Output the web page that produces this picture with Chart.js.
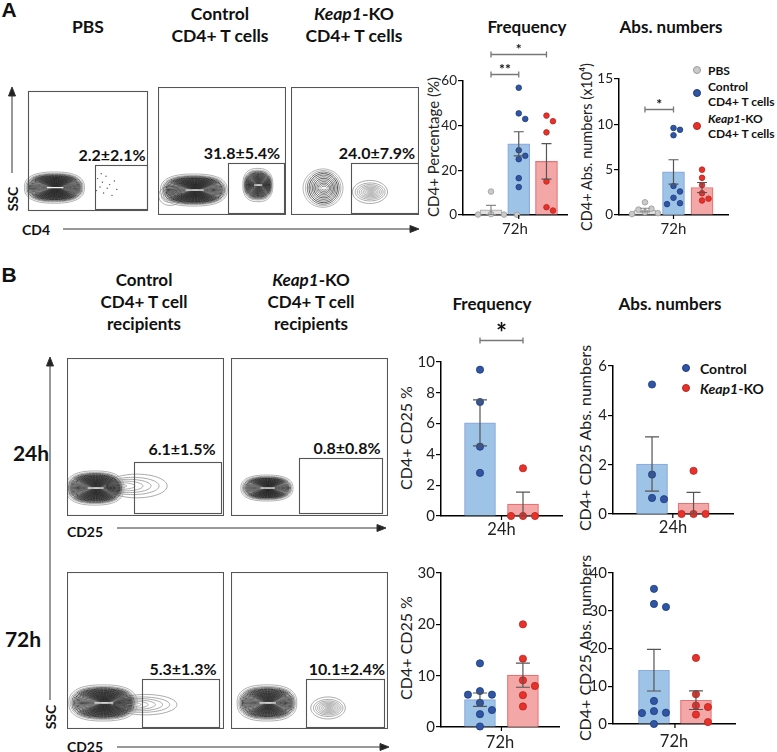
<!DOCTYPE html>
<html>
<head>
<meta charset="utf-8">
<script src="https://cdn.jsdelivr.net/npm/chart.js@4.4.0/dist/chart.umd.min.js"></script>
<style>
  body { margin: 0; width: 777px; height: 752px; position: relative; background: #fff; font-family: Lato, "Open Sans", sans-serif; color: #111; overflow: hidden; }
  .t { position: absolute; transform: translate(-50%, -50%); white-space: nowrap; font-weight: bold; font-size: 17.5px; }
  .l { position: absolute; transform: translateY(-50%); white-space: nowrap; font-weight: bold; font-size: 12px; }
  .rot { position: absolute; transform: translate(-50%, -50%) rotate(-90deg); white-space: nowrap; font-size: 15px; color: #222; }
  .pct { position: absolute; transform: translate(-50%, -50%); white-space: nowrap; font-weight: bold; font-size: 16px; }
  .dot { position: absolute; width: 8px; height: 8px; border-radius: 50%; transform: translate(-50%, -50%); box-sizing: border-box; }
  canvas { position: absolute; }
  svg { position: absolute; left: 0; top: 0; }
</style>
</head>
<body>

<!-- panel letters and headers -->
<div class="t" style="left:9px;top:10px;font-family:'Liberation Sans';font-size:21px">A</div>
<div class="t" style="left:9px;top:275px;font-family:'Liberation Sans';font-size:21px">B</div>

<div class="t" style="left:88px;top:26px">PBS</div>
<div class="t" style="left:220px;top:13px">Control</div>
<div class="t" style="left:220px;top:35px">CD4+ T cells</div>
<div class="t" style="left:354px;top:13px"><i>Keap1</i>-KO</div>
<div class="t" style="left:354px;top:35px">CD4+ T cells</div>

<div class="t" style="left:527px;top:26px;font-size:17px">Frequency</div>
<div class="t" style="left:671px;top:26px;font-size:17px">Abs. numbers</div>

<div class="t" style="left:144px;top:279px;font-size:17px">Control</div>
<div class="t" style="left:144px;top:301px;font-size:17px">CD4+ T cell</div>
<div class="t" style="left:144px;top:323px;font-size:17px">recipients</div>
<div class="t" style="left:311px;top:279px;font-size:17px"><i>Keap1</i>-KO</div>
<div class="t" style="left:311px;top:301px;font-size:17px">CD4+ T cell</div>
<div class="t" style="left:311px;top:323px;font-size:17px">recipients</div>

<div class="t" style="left:492px;top:303px;font-size:17px">Frequency</div>
<div class="t" style="left:670px;top:303px;font-size:17px">Abs. numbers</div>

<div class="t" style="left:31px;top:452px;font-size:21px">24h</div>
<div class="t" style="left:23px;top:638px;font-size:21px">72h</div>

<!-- flow axis labels -->
<div class="rot" style="left:12px;top:199px;font-weight:bold;font-size:14px;color:#111">SSC</div>
<div class="t" style="left:36px;top:229px;font-size:14px">CD4</div>
<div class="rot" style="left:50px;top:717px;font-weight:bold;font-size:14px;color:#111">SSC</div>
<div class="t" style="left:85px;top:531px;font-size:14px">CD25</div>
<div class="t" style="left:85px;top:746px;font-size:14px">CD25</div>

<!-- y axis titles of bar charts -->
<div class="rot" style="left:433px;top:147px">CD4+ Percentage (%)</div>
<div class="rot" style="left:586px;top:147px;font-size:14.5px">CD4+ Abs. numbers (x10⁴)</div>
<div class="rot" style="left:405px;top:438px;font-size:16px">CD4+ CD25 %</div>
<div class="rot" style="left:584px;top:438px;font-size:16px">CD4+ CD25 Abs. numbers</div>
<div class="rot" style="left:405px;top:648px;font-size:16px">CD4+ CD25 %</div>
<div class="rot" style="left:584px;top:648px;font-size:16px">CD4+ CD25 Abs. numbers</div>

<!-- legends -->
<div class="dot" style="left:697px;top:70px;background:#CACACA;border:1px solid #9B9B9B"></div>
<div class="l" style="left:708px;top:70px">PBS</div>
<div class="dot" style="left:697px;top:93px;background:#2F55A4;border:1px solid #1E3C7A"></div>
<div class="l" style="left:708px;top:86px">Control</div>
<div class="l" style="left:708px;top:101px">CD4+ T cells</div>
<div class="dot" style="left:697px;top:126px;background:#E8312B;border:1px solid #B52420"></div>
<div class="l" style="left:708px;top:118px"><i>Keap1</i>-KO</div>
<div class="l" style="left:708px;top:133px">CD4+ T cells</div>

<div class="dot" style="left:686px;top:368px;background:#2F55A4;border:1px solid #1E3C7A"></div>
<div class="l" style="left:700px;top:368px;font-size:14px">Control</div>
<div class="dot" style="left:686px;top:388px;background:#E8312B;border:1px solid #B52420"></div>
<div class="l" style="left:700px;top:388px;font-size:14px"><i>Keap1</i>-KO</div>

<!-- gate percentages -->
<div class="pct" style="left:112px;top:154px">2.2±2.1%</div>
<div class="pct" style="left:242px;top:152px">31.8±5.4%</div>
<div class="pct" style="left:377px;top:152px">24.0±7.9%</div>
<div class="pct" style="left:182px;top:448px">6.1±1.5%</div>
<div class="pct" style="left:347px;top:447px">0.8±0.8%</div>
<div class="pct" style="left:183px;top:668px">5.3±1.3%</div>
<div class="pct" style="left:347px;top:668px">10.1±2.4%</div>

<svg width="777" height="752">
  <g stroke="#333" stroke-width="1" fill="#222">
    <line x1="12" y1="95" x2="12" y2="173"/><polygon points="12,87 8.5,96 15.5,96"/>
    <line x1="63" y1="229" x2="411" y2="229"/><polygon points="419,229 410,225.5 410,232.5"/>
    <line x1="50" y1="366" x2="50" y2="700"/><polygon points="50,357 46.5,366 53.5,366"/>
    <line x1="117" y1="528" x2="378" y2="528"/><polygon points="386,528 377,524.5 377,531.5"/>
    <line x1="117" y1="747" x2="381" y2="747"/><polygon points="389,747 380,743.5 380,750.5"/>
  </g>
</svg>

<canvas id="fa1" width="128" height="128" style="left:24px;top:87px"></canvas>
<canvas id="fa2" width="128" height="128" style="left:158px;top:87px"></canvas>
<canvas id="fa3" width="128" height="128" style="left:291px;top:87px"></canvas>
<canvas id="fb1" width="157" height="158" style="left:67px;top:358px"></canvas>
<canvas id="fb2" width="157" height="158" style="left:231px;top:358px"></canvas>
<canvas id="fb3" width="157" height="157" style="left:67px;top:572px"></canvas>
<canvas id="fb4" width="157" height="157" style="left:231px;top:572px"></canvas>

<canvas id="barA1" width="144" height="200" style="left:433px;top:40px"></canvas>
<canvas id="barA2" width="149" height="200" style="left:589px;top:40px"></canvas>
<canvas id="barB1" width="161" height="222" style="left:411px;top:320px"></canvas>
<canvas id="barB2" width="160" height="220" style="left:583px;top:320px"></canvas>
<canvas id="barB3" width="158" height="210" style="left:411px;top:545px"></canvas>
<canvas id="barB4" width="162" height="209" style="left:583px;top:545px"></canvas>

<script>
// ---- bar chart data (individual animals) ----
const freqA_pbs  = [10.5, 0.4, 0.2, 0.2, 0.1];
const freqA_ctrl = [57, 45.5, 43, 29, 26.5, 25, 16.5, 12.5];
const freqA_ko   = [44.5, 42, 37, 15, 3.5, 2];

const absA_pbs  = [1.4, 0.7, 0.6, 0.3, 0.2, 0.1];
const absA_ctrl = [9.6, 9.4, 8.8, 3.2, 2.6, 1.9, 1.3, 1.2];
const absA_ko   = [5.0, 4.1, 3.3, 2.4, 1.8, 1.6];

const freq24_ctrl = [9.5, 7.4, 4.5, 2.8];
const freq24_ko   = [3.1, 0, 0, 0];
const abs24_ctrl  = [5.25, 1.6, 0.65, 0.6];
const abs24_ko    = [1.75, 0, 0, 0];

const freq72_ctrl = [12.4, 7.0, 6.3, 6.3, 4.7, 3.3, 2.5, 0.1];
const freq72_ko   = [20, 13.3, 9.1, 8.0, 6.2, 4.0];
const abs72_ctrl  = [35.8, 31.8, 31.0, 6.1, 3.4, 3.0, 2.9, 0];
const abs72_ko    = [17.5, 7.9, 4.9, 4.5, 2.5, 0.5];

const timeLabels = ['72h', '72h', '24h', '24h', '72h', '72h'];

// significance: [group from, group to, height in axis units, stars]
const sigFreqA = [[1, 2, 63, '**'], [1, 3, 71.9, '*']];
const sigAbsA  = [[1, 2, 11.7, '*']];
const sigFreq24 = [[1, 2, 11.4, '*']];

// ---- flow plots: populations [cx, cy, rx, ry, levels, tone] in % of plot, gates [x0, x1, y0, y1] ----
const popA1 = [[22, 19.5, 25, 13, 30, 'dark']];
const popA2 = [[9.5, 15, 9, 7.5, 6, 'light'], [28, 19.5, 26, 12.5, 30, 'dark'], [78, 23.4, 11.7, 13, 24, 'dark']];
const popA3 = [[25, 21, 15.6, 15, 12, 'ring'], [61.7, 18, 13.7, 9, 9, 'light']];
const popB1 = [[44.5, 19, 19.3, 7.5, 7, 'tail'], [17.8, 17.7, 18.5, 10.8, 30, 'dark']];
const popB2 = [[22.9, 17.7, 16.6, 8.2, 26, 'dark']];
const popB3 = [[50, 15.5, 20, 6.5, 8, 'tail'], [22.9, 16.6, 21.7, 11.5, 30, 'dark']];
const popB4 = [[22.9, 16.6, 19, 11.5, 28, 'dark'], [61.8, 13.4, 11, 7, 9, 'light']];
const gateA1 = [56, 99, 1.5, 38];
const gateA2 = [54.7, 98.4, 1.5, 40.6];
const gateA3 = [46.9, 99.2, 1.5, 40.6];
const gateB1 = [42.7, 98, 1.9, 34.2];
const gateB2 = [43.3, 96.2, 1.9, 36.7];
const gateB3 = [47.8, 96.8, 1.3, 31.8];
const gateB4 = [47.8, 97.5, 1.3, 31.8];
const dotsA1 = [[58, 27], [60, 20], [62, 24], [63, 15], [65, 29], [66, 19], [68, 22], [70, 13], [72, 25], [61, 31], [74, 18], [57, 17]];

Chart.defaults.font.family = 'Lato';

const FILL = { grey: '#E2E2E2', blue: '#9DC3E6', red: '#F4A7A7' };
const EDGE = { grey: '#B0B0B0', blue: '#8FAADC', red: '#E57373' };
const DOT = { grey: '#CACACA', blue: '#2F55A4', red: '#E8312B' };
const DOTEDGE = { grey: '#9B9B9B', blue: '#1E3C7A', red: '#B52420' };

const mean = a => a.reduce((s, v) => s + v, 0) / a.length;
const sem = a => { const m = mean(a); return Math.sqrt(a.reduce((s, v) => s + (v - m) ** 2, 0) / (a.length - 1) / a.length); };

// simple beeswarm: spread points that would overlap at the same height
function swarm(vals, pxY, pxX, d, step) {
  const placed = [];
  return vals.map(v => {
    const y = v * pxY;
    for (let k = 0; k < 20; k++) {
      const off = (k === 0 ? 0 : (k % 2 ? 1 : -1) * Math.ceil(k / 2)) * step;
      if (placed.every(p => Math.hypot(p.x - off, p.y - y) >= d)) { placed.push({ x: off, y }); return off / pxX; }
    }
    return 0;
  });
}

const barExtras = {
  id: 'barExtras',
  afterDatasetsDraw(chart, args, o) {
    const { ctx, scales: { x, y }, chartArea } = chart;
    ctx.save();
    // error bars (mean ± SEM)
    o.groups.forEach((g, i) => {
      const cx = x.getPixelForValue(i + 1), m = mean(g), s = sem(g);
      const hi = y.getPixelForValue(m + s), lo = y.getPixelForValue(Math.max(0, m - s));
      ctx.strokeStyle = o.colors[i] === 'grey' ? '#8a8a8a' : '#555';
      ctx.lineWidth = 1.2;
      ctx.beginPath();
      ctx.moveTo(cx, hi); ctx.lineTo(cx, lo);
      ctx.moveTo(cx - o.cap, hi); ctx.lineTo(cx + o.cap, hi);
      ctx.moveTo(cx - o.cap, lo); ctx.lineTo(cx + o.cap, lo);
      ctx.stroke();
    });
    // centre tick under the x axis
    const mid = x.getPixelForValue((1 + o.groups.length) / 2);
    ctx.strokeStyle = '#000'; ctx.lineWidth = 1.2;
    ctx.beginPath(); ctx.moveTo(mid, chartArea.bottom); ctx.lineTo(mid, chartArea.bottom + 4); ctx.stroke();
    // significance brackets
    (o.sig || []).forEach(([a, b, h, stars]) => {
      const x1 = x.getPixelForValue(a), x2 = x.getPixelForValue(b), yy = Math.round(y.getPixelForValue(h)) + 0.5;
      ctx.strokeStyle = '#777'; ctx.lineWidth = 1.3;
      ctx.beginPath();
      ctx.moveTo(x1, yy); ctx.lineTo(x2, yy);
      ctx.moveTo(x1, yy - 3); ctx.lineTo(x1, yy + 3);
      ctx.moveTo(x2, yy - 3); ctx.lineTo(x2, yy + 3);
      ctx.stroke();
      ctx.fillStyle = '#111';
      ctx.font = 'bold ' + o.starSize + 'px Lato';
      ctx.textAlign = 'center'; ctx.textBaseline = 'alphabetic';
      ctx.fillText(stars, (x1 + x2) / 2, yy - 1 + o.starShift);
    });
    ctx.restore();
  }
};

function barChart(id, groups, colors, opt) {
  const canvas = document.getElementById(id);
  const plotH = canvas.height - opt.top - opt.xH;
  const plotW = canvas.width - opt.yW - opt.right;
  const pxX = plotW / (opt.xMax - opt.xMin);
  const pxY = plotH / opt.yMax;
  const datasets = [{
    type: 'bar',
    data: groups.map((g, i) => ({ x: i + 1, y: mean(g) })),
    backgroundColor: colors.map(c => FILL[c]),
    borderColor: colors.map(c => EDGE[c]),
    borderWidth: 1.2,
    barThickness: opt.barW,
    order: 2
  }];
  groups.forEach((g, i) => {
    const dx = swarm(g, pxY, pxX, opt.r * 2 + 1, opt.step);
    datasets.push({
      type: 'scatter',
      data: g.map((v, j) => ({ x: i + 1 + dx[j], y: v })),
      pointRadius: opt.r,
      backgroundColor: DOT[colors[i]],
      borderColor: DOTEDGE[colors[i]],
      borderWidth: 0.8,
      clip: false,
      order: 1
    });
  });
  return new Chart(canvas, {
    type: 'bar',
    data: { datasets },
    options: {
      responsive: false,
      animation: false,
      layout: { padding: { top: opt.top, right: opt.right, left: 0, bottom: 0 } },
      plugins: {
        legend: { display: false },
        tooltip: { enabled: false },
        barExtras: { groups, colors, cap: opt.cap, sig: opt.sig, starSize: opt.starSize || 14, starShift: opt.starShift || 0 }
      },
      scales: {
        x: {
          type: 'linear', min: opt.xMin, max: opt.xMax, offset: false,
          grid: { display: false },
          border: { color: '#000', width: 1.5 },
          ticks: { display: false },
          title: { display: true, text: opt.label, color: '#222', font: { size: opt.font + 1.5 }, padding: { top: 0, bottom: 2 } },
          afterFit: s => { s.height = opt.xH; }
        },
        y: {
          min: 0, max: opt.yMax,
          ticks: { stepSize: opt.yStep, color: '#222', font: { size: opt.font }, padding: 1 },
          grid: { drawOnChartArea: false, drawTicks: true, tickLength: 5, color: '#000', lineWidth: 1.2 },
          border: { color: '#000', width: 1.5 },
          afterFit: s => { s.width = opt.yW; }
        }
      }
    },
    plugins: [barExtras]
  });
}

barChart('barA1', [freqA_pbs, freqA_ctrl, freqA_ko], ['grey', 'blue', 'red'],
  { top: 41, right: 10, yW: 30, xH: 25, xMin: -0.01, xMax: 3.74, yMax: 60, yStep: 20, barW: 22, r: 2.8, step: 6.5, cap: 5, sig: sigFreqA, font: 13.5, label: timeLabels[0] });
barChart('barA2', [absA_pbs, absA_ctrl, absA_ko], ['grey', 'blue', 'red'],
  { top: 39, right: 10, yW: 30, xH: 25, xMin: 0.09, xMax: 3.91, yMax: 15, yStep: 5, barW: 22, r: 2.8, step: 6.5, cap: 5, sig: sigAbsA, font: 13.5, label: timeLabels[1] });
barChart('barB1', [freq24_ctrl, freq24_ko], ['blue', 'red'],
  { top: 42, right: 10, yW: 30, xH: 26, xMin: 0.093, xMax: 2.907, yMax: 10, yStep: 2, barW: 31, r: 3.6, step: 12, cap: 7, sig: sigFreq24, starSize: 26, starShift: 2, font: 15, label: timeLabels[2] });
barChart('barB2', [abs24_ctrl, abs24_ko], ['blue', 'red'],
  { top: 46, right: 10, yW: 30, xH: 26, xMin: 0.06, xMax: 2.95, yMax: 6, yStep: 2, barW: 31, r: 3.6, step: 12, cap: 7, font: 15, label: timeLabels[3] });
barChart('barB3', [freq72_ctrl, freq72_ko], ['blue', 'red'],
  { top: 28, right: 10, yW: 30, xH: 28, xMin: 0.093, xMax: 2.84, yMax: 30, yStep: 10, barW: 31, r: 3.6, step: 12, cap: 7, font: 15, label: timeLabels[4] });
barChart('barB4', [abs72_ctrl, abs72_ko], ['blue', 'red'],
  { top: 28, right: 10, yW: 30, xH: 30, xMin: 0.024, xMax: 2.93, yMax: 40, yStep: 10, barW: 31, r: 3.6, step: 12, cap: 7, font: 15, label: timeLabels[5] });

// ---- flow cytometry contour plots ----
function blobPath(ctx, px, py, rx, ry, p) {
  ctx.beginPath();
  for (let k = 0; k <= 72; k++) {
    const th = k / 72 * Math.PI * 2, c = Math.cos(th), s = Math.sin(th);
    const xx = px + rx * Math.sign(c) * Math.pow(Math.abs(c), 2 / p);
    const yy = py + ry * Math.sign(s) * Math.pow(Math.abs(s), 2 / p);
    k ? ctx.lineTo(xx, yy) : ctx.moveTo(xx, yy);
  }
  ctx.closePath();
}

const contours = {
  id: 'contours',
  beforeDatasetsDraw(chart, args, o) {
    const { ctx, scales: { x, y }, chartArea: a } = chart;
    ctx.save();
    o.pops.forEach(([cx, cy, rx, ry, n, tone]) => {
      const px = x.getPixelForValue(cx), py = y.getPixelForValue(cy);
      const prx = Math.abs(x.getPixelForValue(cx + rx) - px);
      const pry = Math.abs(y.getPixelForValue(cy + ry) - py);
      for (let i = 0; i < n; i++) {
        const t = i / (n - 1);
        const sx = tone === 'tail' ? 1 - 0.8 * t : 1 - 0.86 * Math.pow(t, 0.85);
        const sy = tone === 'ring' ? 1 - 0.9 * t : 1 - 0.95 * Math.pow(t, 0.7);
        if (tone === 'dark') ctx.strokeStyle = i < 2 ? '#a0a0a0' : (i < 4 ? '#555' : '#222');
        else if (tone === 'ring') ctx.strokeStyle = i < 2 ? '#999' : (i % 3 === 0 ? '#111' : '#444');
        else ctx.strokeStyle = '#8c8c8c';
        ctx.lineWidth = tone === 'dark' ? 0.85 : 0.75;
        // tails keep a common left end, so inner lines sink into the main population
        const ox = tone === 'tail' ? px - prx + prx * sx : px + (1 - sx) * prx * 0.06;
        blobPath(ctx, ox, py, Math.max(prx * sx, 0.5), Math.max(pry * sy, 0.5), tone === 'dark' ? 2.5 : 2);
        ctx.stroke();
      }
      if (tone === 'dark' || tone === 'ring') {
        ctx.strokeStyle = '#f2f2f2'; ctx.lineWidth = 1.2;
        ctx.beginPath(); ctx.moveTo(px - prx * 0.25, py); ctx.lineTo(px + prx * 0.3, py); ctx.stroke();
      }
    });
    // gate
    const [g0, g1, g2, g3] = o.gate;
    const gx = Math.round(x.getPixelForValue(g0)) + 0.5, gx2 = Math.round(x.getPixelForValue(g1)) + 0.5;
    const gy = Math.round(y.getPixelForValue(g3)) + 0.5, gy2 = Math.round(y.getPixelForValue(g2)) + 0.5;
    ctx.strokeStyle = '#555'; ctx.lineWidth = 1.1;
    ctx.strokeRect(gx, gy, gx2 - gx, gy2 - gy);
    // plot frame
    ctx.strokeRect(a.left + 0.5, a.top + 0.5, a.right - a.left - 1, a.bottom - a.top - 1);
    ctx.restore();
  }
};

function facs(id, pops, gate, dots) {
  return new Chart(document.getElementById(id), {
    type: 'scatter',
    data: { datasets: [{ data: (dots || []).map(([x, y]) => ({ x, y })), pointRadius: 0.7, backgroundColor: '#555', borderWidth: 0 }] },
    options: {
      responsive: false,
      animation: false,
      layout: { padding: 0 },
      plugins: { legend: { display: false }, tooltip: { enabled: false }, contours: { pops, gate } },
      scales: { x: { display: false, min: 0, max: 100 }, y: { display: false, min: 0, max: 100 } }
    },
    plugins: [contours]
  });
}

facs('fa1', popA1, gateA1, dotsA1);
facs('fa2', popA2, gateA2);
facs('fa3', popA3, gateA3);
facs('fb1', popB1, gateB1);
facs('fb2', popB2, gateB2);
facs('fb3', popB3, gateB3);
facs('fb4', popB4, gateB4);
</script>
</body>
</html>
